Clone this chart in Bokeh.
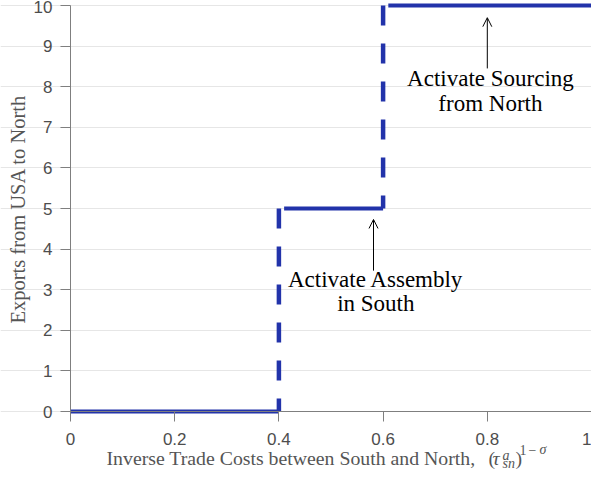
import math
from bokeh.plotting import figure
from bokeh.models import Range1d, FixedTicker, Arrow, OpenHead, Label
from bokeh.core.properties import value
from bokeh.embed import file_html
from bokeh.resources import INLINE

# ---- data ----
x_ticks = [0, 0.2, 0.4, 0.6, 0.8, 1.0]
x_tick_labels = ["0", "0.2", "0.4", "0.6", "0.8", "1"]
y_ticks = [0, 1, 2, 3, 4, 5, 6, 7, 8, 9, 10]
y_tick_labels = ["0", "1", "2", "3", "4", "5", "6", "7", "8", "9", "10"]

levels = [0, 5, 10]            # export level on each flat piece
seg_start = [0.0, 0.41, 0.61]  # start of each flat piece
seg_end = [0.4, 0.6, 1.0]      # end of each flat piece
jump_x = [0.4, 0.6]            # thresholds
jump_top = [5, 10]
jump_bottom = [0, 5]

ann_lines = ["Activate Assembly", "in South", "Activate Sourcing", "from North"]
ann_x = [0.586, 0.586, 0.806, 0.806]
ann_y = [3.251, 2.660, 8.202, 7.594]
arrow_x = [0.5816, 0.80]
arrow_tail = [3.47, 8.45]
arrow_tip = [4.73, 9.70]

x_label_text = "Inverse Trade Costs between South and North,"
y_label_text = "Exports from USA to North"

BLUE = "#2233aa"
AXIS = "#7f7f7f"
TICKTXT = "#4d4d4d"
LABTXT = "#555555"
SERIF = "Liberation Serif"

p = figure(width=591, height=477, output_backend="svg", toolbar_location=None,
           x_range=Range1d(-0.13436, 1.0), y_range=Range1d(-1.6256, 10.1232),
           min_border_left=0, min_border_right=0, min_border_top=0,
           min_border_bottom=0)
p.outline_line_color = None
p.background_fill_color = "white"
p.border_fill_color = "white"

p.xgrid.visible = False
p.ygrid.grid_line_color = "#e6e6e6"
p.ygrid.grid_line_width = 1
p.ygrid.ticker = FixedTicker(ticks=y_ticks)
p.ygrid.bounds = (0, 1)

p.xaxis.ticker = FixedTicker(ticks=x_ticks)
p.xaxis.major_label_overrides = dict(zip(x_ticks, x_tick_labels))
p.xaxis.fixed_location = 0
p.xaxis.bounds = (0, 1)
p.yaxis.ticker = FixedTicker(ticks=y_ticks)
p.yaxis.major_label_overrides = dict(zip(y_ticks, y_tick_labels))
p.yaxis.fixed_location = 0
p.yaxis.bounds = (0, 10)

for ax in (p.xaxis, p.yaxis):
    ax.axis_line_color = AXIS
    ax.major_tick_line_color = AXIS
    ax.major_tick_out = 10
    ax.major_tick_in = 0
    ax.minor_tick_out = 0
    ax.minor_tick_in = 0
    ax.major_label_text_font = "Liberation Sans"
    ax.major_label_text_font_size = "17px"
    ax.major_label_text_color = TICKTXT
p.xaxis.major_label_standoff = 11
p.yaxis.major_label_standoff = 8

# step function
p.segment(x0=seg_start, y0=levels, x1=seg_end, y1=levels,
          line_color=BLUE, line_width=4, line_cap="butt")
p.segment(x0=jump_x, y0=jump_top, x1=jump_x, y1=jump_bottom,
          line_color=BLUE, line_width=4.5, line_dash="20 18", line_cap="butt")

# arrows
for ax_, t0, t1 in zip(arrow_x, arrow_tail, arrow_tip):
    p.add_layout(Arrow(end=OpenHead(size=9, line_width=1, line_color="black"),
                       x_start=ax_, y_start=t0, x_end=ax_, y_end=t1,
                       line_width=1, line_color="black"))

p.text(x=ann_x, y=ann_y, text=ann_lines, text_font=value(SERIF),
       text_font_size="23px", text_align="center", text_baseline="alphabetic",
       text_color="black")

# axis labels built from text pieces (text + math)
def lab(x, y, text, size="19.8px", style="normal", align="left", angle=0.0):
    p.add_layout(Label(x=x, y=y, text=text, text_font=SERIF, text_font_size=size,
                       text_font_style=style, text_color=LABTXT, angle=angle,
                       text_align=align, text_baseline="alphabetic"))

lab(-0.1017, 4.985, y_label_text, size="20.5px", align="center", angle=math.pi / 2)

base = -1.140
lab(0.7774, base, x_label_text, align="right")
lab(0.8023, base, "(")
lab(0.8100, base, "\u03c4", style="italic")
lab(0.8292, -1.096, "a", size="14px", style="italic")
lab(0.8292, -1.293, "sn", size="14px", style="italic")
lab(0.8541, base, ")")
lab(0.8618, -0.948, "1", size="14px")
lab(0.8790, -0.948, "\u2212", size="14px")
lab(0.9000, -0.948, "\u03c3", size="14px", style="italic")

open("out.html", "w").write(file_html(p, INLINE))
